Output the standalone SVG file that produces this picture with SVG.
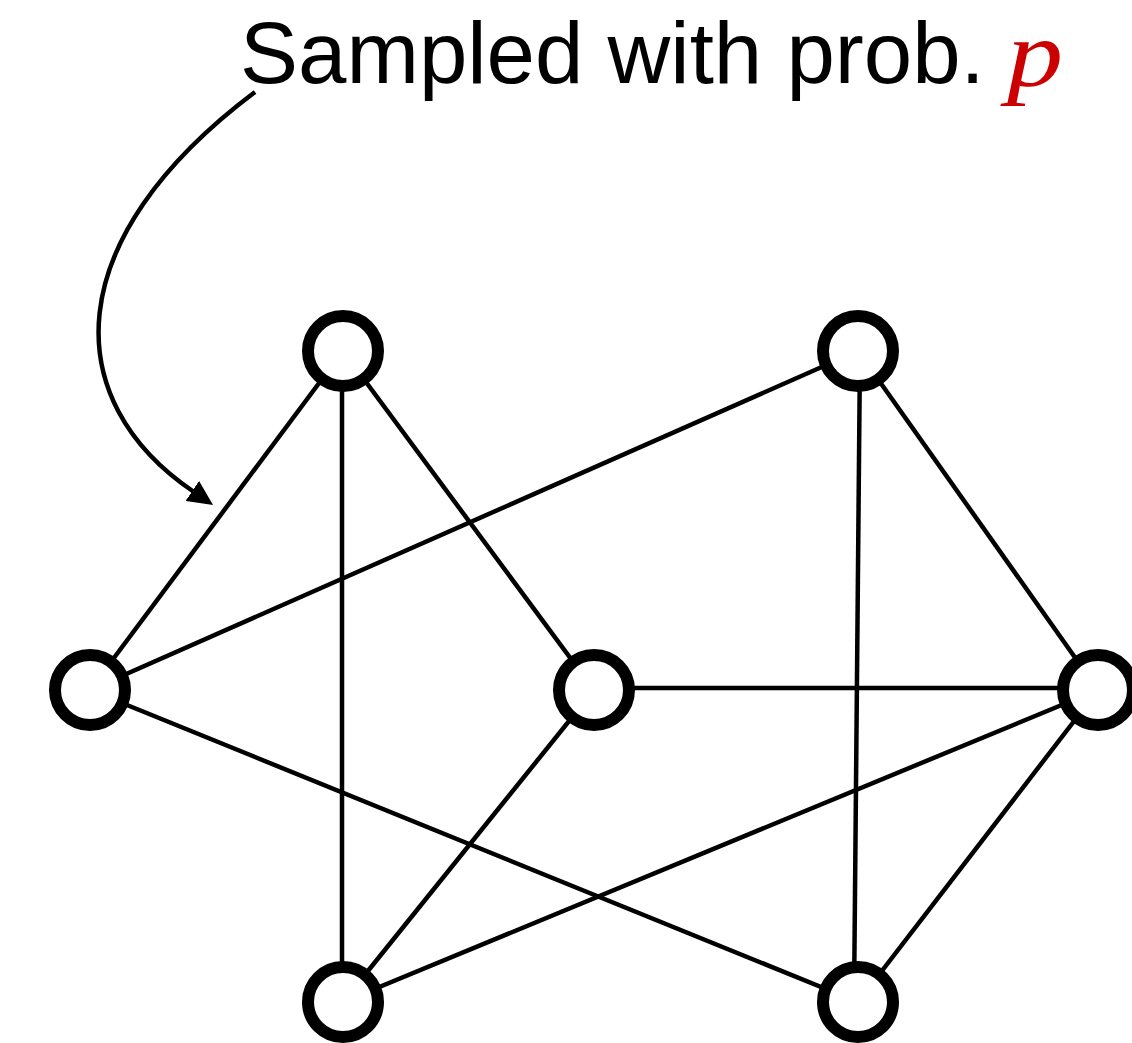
<svg xmlns="http://www.w3.org/2000/svg" width="1132" height="1043" viewBox="0 0 1132 1043">
<style>
.edge{stroke:#000;stroke-width:4.5;fill:none;stroke-linecap:butt}
.node{fill:#fff;stroke:#000;stroke-width:12}
.lbl{font-family:"Liberation Sans",Arial,Helvetica,sans-serif;font-size:87px;fill:#000}
.var{font-family:"Liberation Serif","Times New Roman",serif;font-style:italic;font-size:95px;fill:#cc0000}
</style>
<defs>
<marker id="ah" viewBox="0 0 25 24" refX="2" refY="12" markerWidth="25" markerHeight="24" markerUnits="userSpaceOnUse" orient="auto">
<path d="M0,0 L25,12 L0,24 Z" fill="#000"/>
</marker>
</defs>
<rect width="1132" height="1043" fill="#fff"/>
<g id="connectors">
<line class="edge" x1="343" y1="351" x2="90" y2="690"/>
<line class="edge" x1="342" y1="351" x2="342" y2="1002"/>
<line class="edge" x1="343" y1="351" x2="594" y2="690"/>
<line class="edge" x1="858" y1="351" x2="90" y2="690"/>
<line class="edge" x1="860" y1="351" x2="854" y2="1002"/>
<line class="edge" x1="858" y1="351" x2="1098" y2="690"/>
<line class="edge" x1="90" y1="690" x2="858" y2="1002"/>
<line class="edge" x1="594" y1="688" x2="1072" y2="688"/>
<line class="edge" x1="594" y1="690" x2="343" y2="1002"/>
<line class="edge" x1="1098" y1="690" x2="343" y2="1002"/>
<line class="edge" x1="1098" y1="690" x2="858" y2="1002"/>
<path class="edge" d="M255,92 C58,240 58,400 194,492" marker-end="url(#ah)"/>
</g>
<g id="node-a"><circle class="node" cx="343" cy="351" r="35"/></g>
<g id="node-b"><circle class="node" cx="858" cy="351" r="35"/></g>
<g id="node-c"><circle class="node" cx="90" cy="690" r="35"/></g>
<g id="node-d"><circle class="node" cx="594" cy="690" r="35"/></g>
<g id="node-e"><circle class="node" cx="1098" cy="690" r="35"/></g>
<g id="node-f"><circle class="node" cx="343" cy="1002" r="35"/></g>
<g id="node-g"><circle class="node" cx="858" cy="1002" r="35"/></g>
<g id="label">
<text class="lbl" x="240" y="83">Sampled with prob.</text>
<text class="var" transform="translate(1007,86) scale(1.18,1)" x="0" y="0">p</text>
</g>
</svg>
